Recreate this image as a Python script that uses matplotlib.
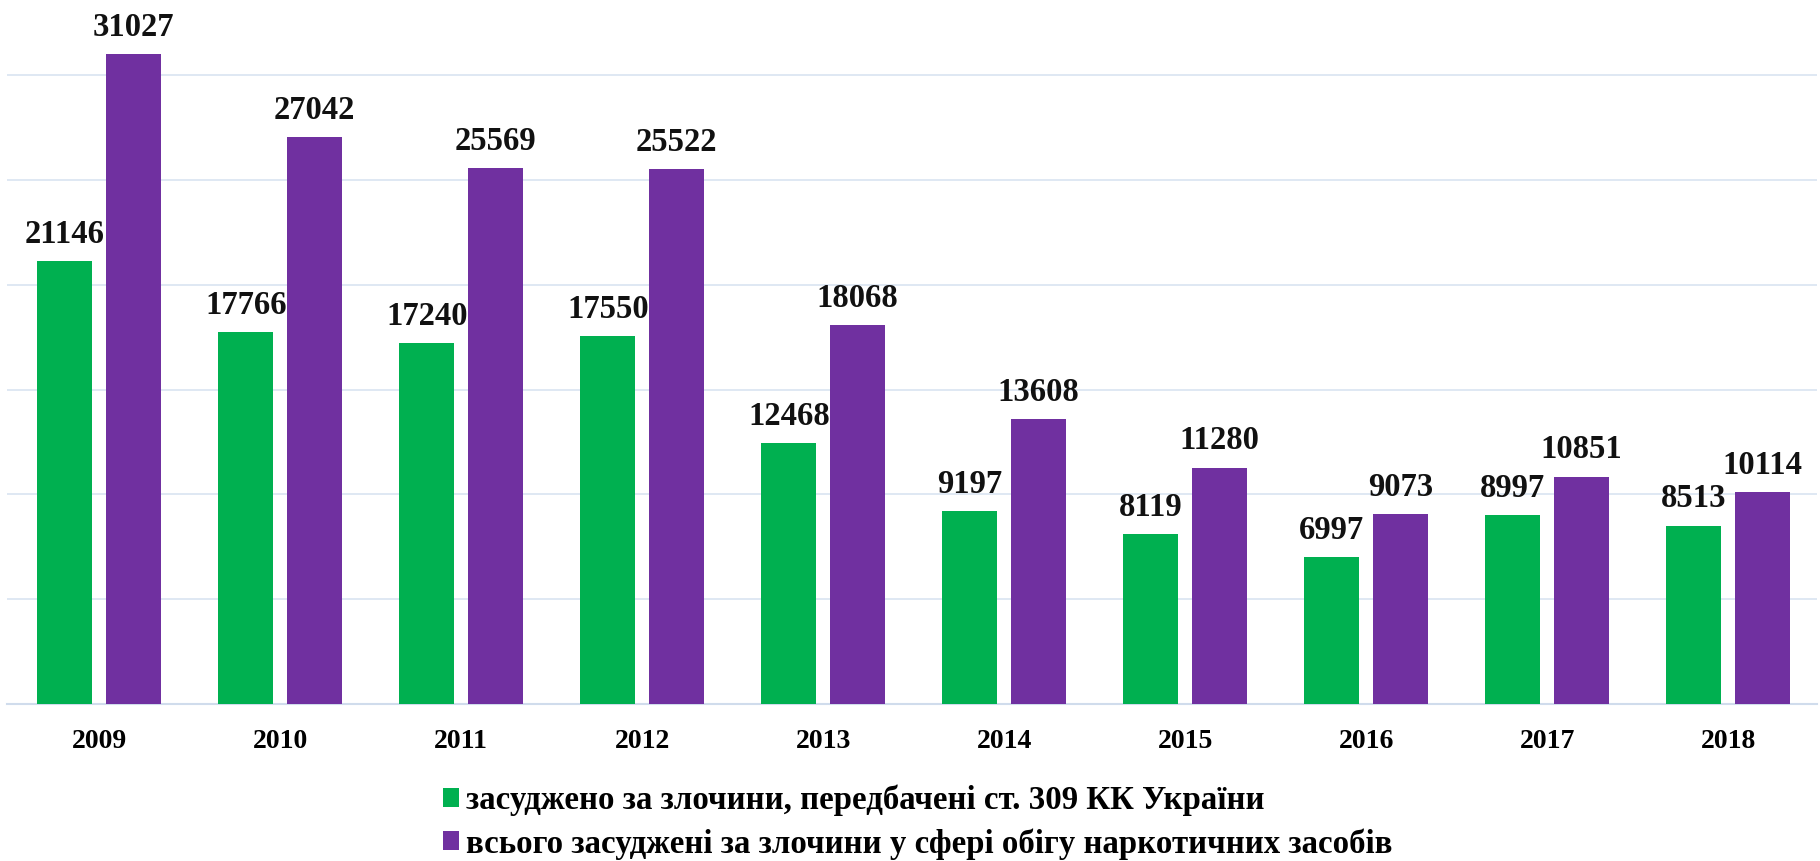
import matplotlib.pyplot as plt
import numpy as np

years = ["2009", "2010", "2011", "2012", "2013", "2014", "2015", "2016", "2017", "2018"]
convicted_309 = [21146, 17766, 17240, 17550, 12468, 9197, 8119, 6997, 8997, 8513]
convicted_total = [31027, 27042, 25569, 25522, 18068, 13608, 11280, 9073, 10851, 10114]

label_309 = "засуджено за злочини, передбачені ст. 309 КК України"
label_total = "всього засуджені за злочини у сфері обігу наркотичних засобів"

GREEN = "#00B050"
PURPLE = "#7030A0"
GRID = "#dce6f2"

plt.rcParams["font.family"] = ["Liberation Serif", "DejaVu Serif"]
plt.rcParams["font.weight"] = "bold"

fig = plt.figure(figsize=(18.2, 8.61), dpi=100)
ax = fig.add_axes([0.0038, 0.1823, 0.9945, 0.8177])

x = np.arange(len(years))
w = 0.304
off = 0.19
b1 = ax.bar(x - off, convicted_309, w, color=GREEN, label=label_309, zorder=3)
b2 = ax.bar(x + off, convicted_total, w, color=PURPLE, label=label_total, zorder=3)

# value labels above every bar
for bars in (b1, b2):
    for rect in bars:
        h = rect.get_height()
        ax.annotate(f"{h:.0f}", (rect.get_x() + rect.get_width() / 2, h),
                    xytext=(0, 8), textcoords="offset points",
                    ha="center", va="bottom", fontsize=23.5, fontweight="bold",
                    color="#111111")

ax.set_xlim(-0.51, 9.49)
ax.set_ylim(0, 33588)
ax.set_yticks(range(5000, 30001, 5000))
ax.yaxis.grid(True, color=GRID, linewidth=1.3, zorder=0)
ax.set_yticklabels([])
ax.tick_params(axis="y", length=0)
ax.set_xticks(x)
ax.set_xticklabels(years, fontsize=20, fontweight="bold")
ax.tick_params(axis="x", length=0, pad=18)

for side in ("top", "right", "left"):
    ax.spines[side].set_visible(False)
ax.spines["bottom"].set_color("#d0dcec")
ax.spines["bottom"].set_linewidth(1.5)

fig.legend(handles=[b1, b2], loc="upper left", bbox_to_anchor=(0.2434, 0.089),
           frameon=False, handlelength=0.5, handleheight=0.5,
           handletextpad=0.2, labelspacing=0.37, borderpad=0, borderaxespad=0,
           prop={"weight": "bold", "size": 23.7})

fig.savefig("out.png", dpi=100)
